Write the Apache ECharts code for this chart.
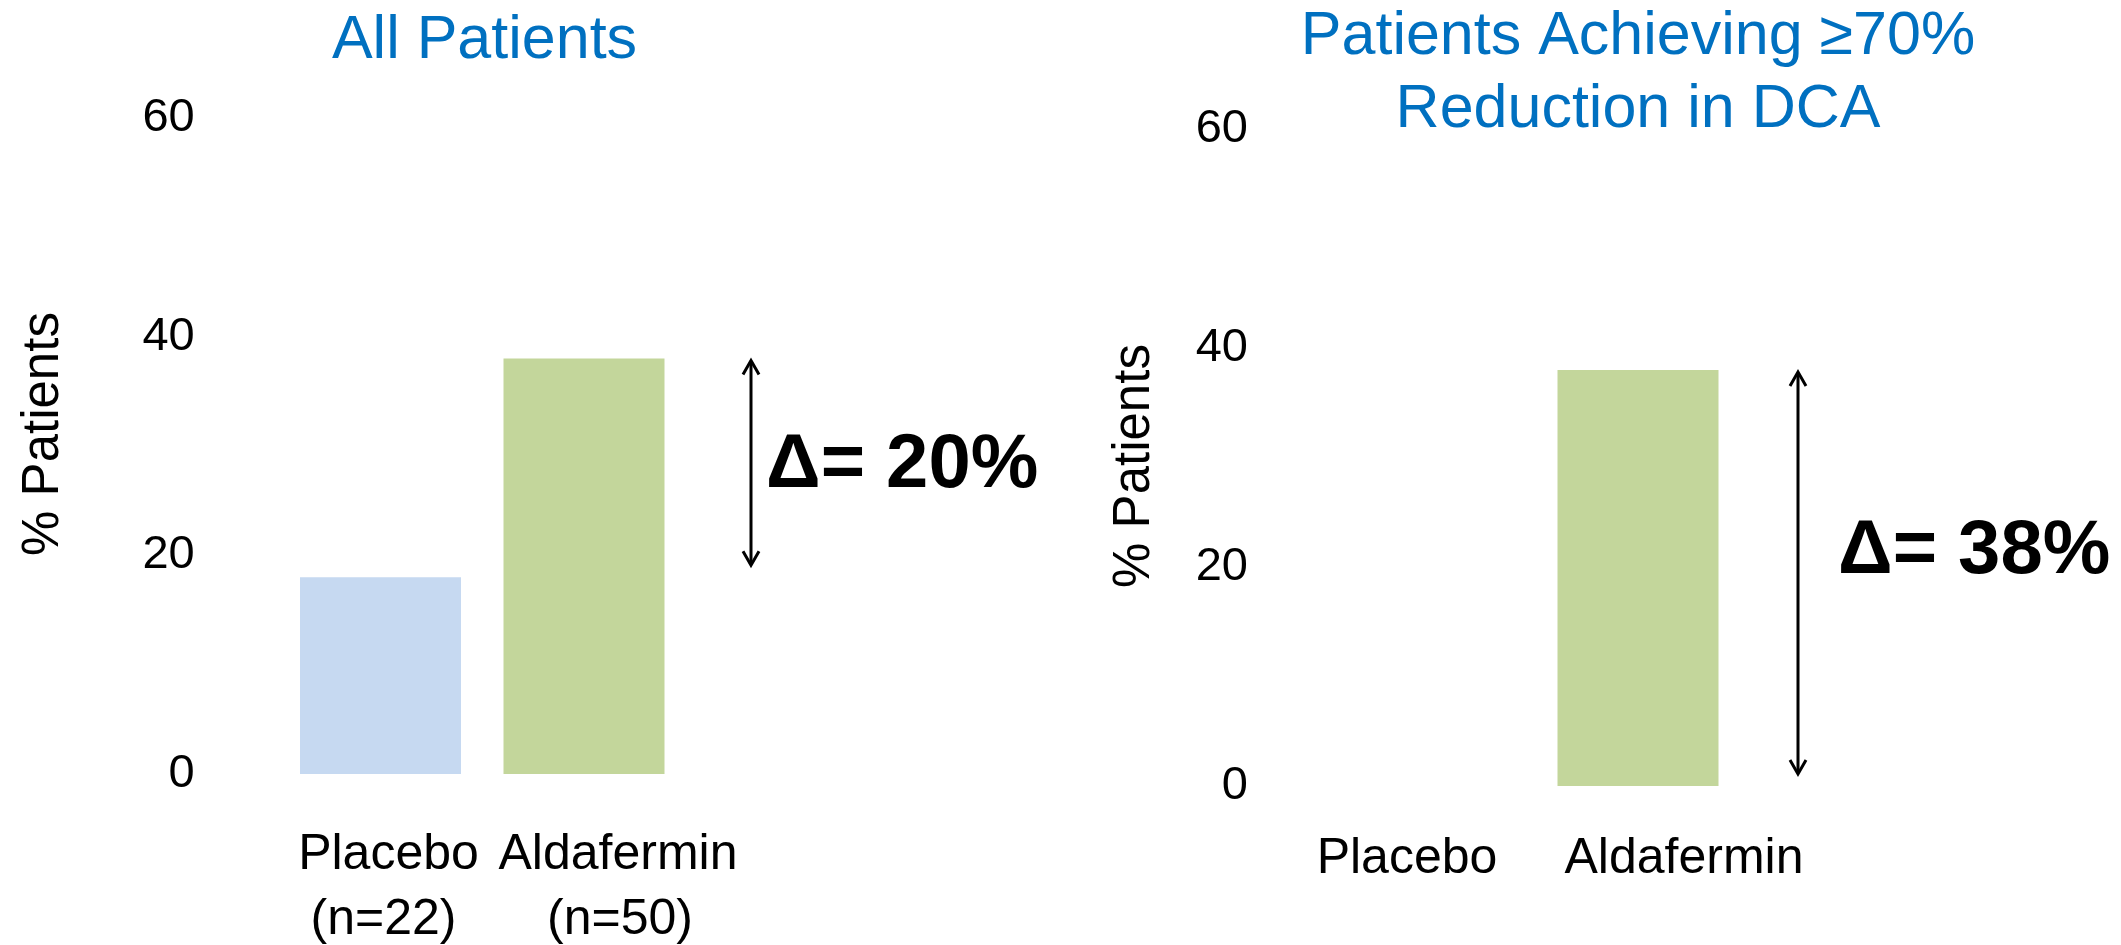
<!DOCTYPE html>
<html>
<head>
<meta charset="utf-8">
<script src="https://cdn.jsdelivr.net/npm/echarts@6/dist/echarts.min.js"></script>
<style>
  html, body { margin: 0; padding: 0; background: #ffffff; }
  #chart { width: 2121px; height: 945px; }
</style>
</head>
<body>
<div id="chart"></div>
<script>
// Treatment groups and enrolment
const groups = ['Placebo', 'Aldafermin'];
const groupSizes = ['n=22', 'n=50'];

// % of patients per group, for each panel
const allPatients = [18, 38];
const responders = [0, 38];

// Y axis scale
const yTicks = [0, 20, 40, 60];
const yAxisTitle = '% Patients';

// Panel headings
const panelTitles = ['All Patients', 'Patients Achieving \u226570%\nReduction in DCA'];

const FONT = '"Liberation Sans", Arial, Helvetica, sans-serif';
const BLUE = '#0070C0';
const barColors = ['#C6D9F1', '#C3D69B'];

const yMin = yTicks[0];
const yMax = yTicks[yTicks.length - 1];
const yStep = yTicks[1] - yTicks[0];

function barData(values) {
  return values.map((v, i) => ({ value: v, itemStyle: { color: barColors[i] } }));
}

function deltaText(values) {
  return '\u0394= ' + (values[1] - values[0]) + '%';
}

// Double-headed arrow spanning the gap between the two group values
function arrowRenderer(dx) {
  return function (params, api) {
    const hi = api.value(1);
    const lo = api.value(2);
    const top = api.coord([1, hi]);
    const bot = api.coord([1, lo]);
    const x = top[0] + dx;
    const y1 = top[1] + 2;
    const y2 = bot[1] - 12;
    const hw = 8, hh = 14;
    const stroke = { stroke: '#000', lineWidth: 3, fill: null, lineJoin: 'miter' };
    return {
      type: 'group',
      children: [
        { type: 'line', shape: { x1: x, y1: y1 + 1, x2: x, y2: y2 - 1 }, style: stroke },
        { type: 'polyline', shape: { points: [[x - hw, y1 + hh], [x, y1], [x + hw, y1 + hh]] }, style: stroke },
        { type: 'polyline', shape: { points: [[x - hw, y2 - hh], [x, y2], [x + hw, y2 - hh]] }, style: stroke }
      ]
    };
  };
}

function yAxisCfg(gridIndex, labelMargin, nameGap, namePadding) {
  return {
    type: 'value',
    gridIndex: gridIndex,
    min: yMin,
    max: yMax,
    interval: yStep,
    axisLine: { show: false },
    axisTick: { show: false },
    splitLine: { show: false },
    axisLabel: { margin: labelMargin, fontSize: 47, fontFamily: FONT, color: '#000' },
    name: yAxisTitle,
    nameLocation: 'middle',
    nameRotate: 90,
    nameGap: nameGap,
    nameTextStyle: { fontSize: 51, fontFamily: FONT, color: '#000', padding: namePadding }
  };
}

const richBase = { fontSize: 50, fontFamily: FONT, color: '#000', lineHeight: 65 };

const option = {
  backgroundColor: '#ffffff',
  animation: false,
  title: [
    {
      text: panelTitles[0],
      left: 484.5,
      top: 6,
      textAlign: 'center',
      padding: 0,
      textStyle: { fontSize: 61, fontWeight: 'normal', fontFamily: FONT, color: BLUE, lineHeight: 71 }
    },
    {
      text: panelTitles[1],
      left: 1638,
      top: 1,
      textAlign: 'center',
      padding: 0,
      textStyle: { fontSize: 61, fontWeight: 'normal', fontFamily: FONT, color: BLUE, lineHeight: 73 }
    }
  ],
  grid: [
    { left: 278.75, top: 118, width: 407, height: 660 },
    { left: 1291.5, top: 129, width: 462, height: 657 }
  ],
  xAxis: [
    {
      type: 'category',
      gridIndex: 0,
      data: groups,
      axisLine: { show: false },
      axisTick: { show: false },
      axisLabel: {
        margin: 48.5,
        interval: 0,
        formatter: (v, i) => '{a' + i + '|' + groups[i] + '}\n{b' + i + '|(' + groupSizes[i] + ')}',
        rich: {
          a0: Object.assign({ padding: [0, 0, 0, 16] }, richBase),
          b0: Object.assign({ padding: [0, 0, 0, 6] }, richBase),
          a1: Object.assign({ padding: [0, 0, 0, 68] }, richBase),
          b1: Object.assign({ padding: [0, 0, 0, 72] }, richBase)
        }
      }
    },
    {
      type: 'category',
      gridIndex: 1,
      data: groups,
      axisLine: { show: false },
      axisTick: { show: false },
      axisLabel: {
        margin: 40.5,
        interval: 0,
        formatter: (v, i) => '{c' + i + '|' + groups[i] + '}',
        rich: {
          c0: Object.assign({}, richBase),
          c1: Object.assign({ padding: [0, 0, 0, 92] }, richBase)
        }
      }
    }
  ],
  yAxis: [
    yAxisCfg(0, 84, 209, [0, 0, 0, 24]),
    yAxisCfg(1, 43.5, 131, [0, 17, 0, 0])
  ],
  series: [
    {
      type: 'bar',
      xAxisIndex: 0,
      yAxisIndex: 0,
      barWidth: 161,
      data: barData(allPatients)
    },
    {
      type: 'bar',
      xAxisIndex: 1,
      yAxisIndex: 1,
      barWidth: 161,
      data: barData(responders)
    },
    {
      type: 'custom',
      xAxisIndex: 0,
      yAxisIndex: 0,
      renderItem: arrowRenderer(167),
      encode: { x: 0, y: [1, 2] },
      data: [[1, allPatients[1], allPatients[0]]],
      silent: true,
      z: 5
    },
    {
      type: 'custom',
      xAxisIndex: 1,
      yAxisIndex: 1,
      renderItem: arrowRenderer(160),
      encode: { x: 0, y: [1, 2] },
      data: [[1, responders[1], responders[0]]],
      silent: true,
      z: 5
    }
  ],
  graphic: [
    {
      type: 'text',
      x: 766,
      y: 466,
      style: {
        text: deltaText(allPatients),
        font: 'bold 76px ' + FONT,
        fill: '#000',
        align: 'left', verticalAlign: 'middle',
        textAlign: 'left', textVerticalAlign: 'middle'
      }
    },
    {
      type: 'text',
      x: 1838,
      y: 552,
      style: {
        text: deltaText(responders),
        font: 'bold 76px ' + FONT,
        fill: '#000',
        align: 'left', verticalAlign: 'middle',
        textAlign: 'left', textVerticalAlign: 'middle'
      }
    }
  ]
};

const chart = echarts.init(document.getElementById('chart'), null, { renderer: 'canvas' });
chart.setOption(option);
</script>
</body>
</html>
